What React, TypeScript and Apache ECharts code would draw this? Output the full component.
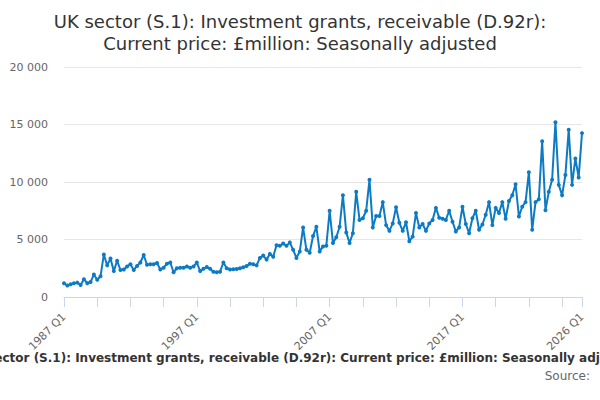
import React, { useEffect, useRef } from "react";
import * as echarts from "echarts";

const START_YEAR = 1987;

// Quarterly values, £million (one row per year: Q1..Q4)
const values1987_1996: number[] = [
  1200, 1000, 1100, 1200,
  1250, 1050, 1550, 1200,
  1300, 1950, 1500, 1800,
  3700, 2750, 3350, 2250,
  3150, 2350, 2400, 2650,
  2850, 2350, 2700, 3000,
  3650, 2800, 2850, 2850,
  2950, 2400, 2550, 2900,
  3000, 2150, 2500, 2550,
  2550, 2650, 2550, 2650,
];
const values1997_2006: number[] = [
  3000, 2250, 2450, 2600,
  2450, 2200, 2150, 2200,
  3000, 2500, 2400, 2420,
  2430, 2500, 2580, 2700,
  2900, 2850, 2750, 3400,
  3600, 3250, 3750, 3500,
  4500, 4450, 4650, 4450,
  4750, 4100, 3400, 3950,
  6050, 4100, 3850, 5300,
  6100, 3950, 4400, 4450,
];
const values2007_2016: number[] = [
  7500, 4700, 5200, 6100,
  8850, 5600, 4700, 5550,
  9150, 6700, 6850, 7500,
  10200, 6050, 7050, 7050,
  8250, 6250, 5750, 6400,
  7800, 6450, 5750, 6500,
  4850, 5250, 7300, 6050,
  6350, 5750, 6400, 6700,
  7750, 6900, 6800, 6700,
  7500, 6550, 5700, 6050,
];
const values2017_2026: number[] = [
  7850, 6350, 5550, 6850,
  7500, 5850, 6300, 7150,
  8250, 6250, 7750, 7300,
  8250, 6800, 8350, 8850,
  9800, 7000, 7850, 8250,
  10850, 5850, 8250, 8500,
  13550, 7550, 9150, 10200,
  15200, 9750, 8850, 10600,
  14550, 9750, 12050, 10400,
  14250,
];

const seriesValues: number[] = [
  ...values1987_1996,
  ...values1997_2006,
  ...values2007_2016,
  ...values2017_2026,
];

const categories: string[] = seriesValues.map(
  (_, i) => `${START_YEAR + Math.floor(i / 4)} Q${(i % 4) + 1}`
);

const yTicks: number[] = [0, 5000, 10000, 15000, 20000];

const titleLines: string[] = [
  "UK sector (S.1): Investment grants, receivable (D.92r):",
  "Current price: £million: Seasonally adjusted",
];
const captionText =
  "UK sector (S.1): Investment grants, receivable (D.92r): Current price: £million: Seasonally adjusted";
const sourceText = "Source:";

const FONT = "DejaVu Sans";

export default function App() {
  const ref = useRef<HTMLDivElement>(null);

  useEffect(() => {
    document.body.style.margin = "0";
    if (!ref.current) return;
    const chart = echarts.init(ref.current, undefined, { renderer: "svg" });
    const last = categories.length - 1;
    chart.setOption({
      animation: false,
      backgroundColor: "#ffffff",
      textStyle: { fontFamily: FONT },
      title: {
        text: titleLines.join("\n"),
        left: "center",
        top: 5,
        textStyle: {
          fontFamily: FONT,
          fontSize: 18,
          fontWeight: "normal",
          color: "#333333",
          lineHeight: 22,
        },
      },
      grid: { left: 64, right: 18, top: 67, bottom: 103, containLabel: false },
      xAxis: {
        type: "category",
        data: categories,
        boundaryGap: false,
        axisLine: { lineStyle: { color: "#ccd6eb" } },
        axisTick: {
          length: 10,
          lineStyle: { color: "#ccd6eb" },
          interval: (idx: number) => idx % 10 === 0 || idx === last,
        },
        axisLabel: {
          rotate: 45,
          color: "#666666",
          fontSize: 11,
          fontFamily: FONT,
          margin: 18,
          interval: (idx: number) => idx % 40 === 0 || idx === last,
        },
        splitLine: { show: false },
      },
      yAxis: {
        type: "value",
        min: yTicks[0],
        max: yTicks[yTicks.length - 1],
        interval: yTicks[1] - yTicks[0],
        axisLine: { show: false },
        axisTick: { show: false },
        axisLabel: {
          color: "#666666",
          fontSize: 11,
          fontFamily: FONT,
          margin: 16,
          formatter: (v: number) =>
            String(v).replace(/\B(?=(\d{3})+(?!\d))/g, " "),
        },
        splitLine: { lineStyle: { color: "#e6e6e6" } },
      },
      series: [
        {
          type: "line",
          data: seriesValues,
          symbol: "circle",
          symbolSize: 4,
          showSymbol: true,
          showAllSymbol: true,
          lineStyle: { color: "#0d7bc4", width: 2 },
          itemStyle: { color: "#0d7bc4" },
        },
      ],
      graphic: [
        {
          type: "text",
          x: 301,
          y: 358,
          style: {
            text: captionText,
            textAlign: "center",
            textVerticalAlign: "middle",
            fontFamily: FONT,
            fontSize: 12,
            fontWeight: "bold",
            fill: "#333333",
          },
        },
        {
          type: "text",
          x: 590,
          y: 376,
          style: {
            text: sourceText,
            textAlign: "right",
            textVerticalAlign: "middle",
            fontFamily: FONT,
            fontSize: 12,
            fill: "#666666",
          },
        },
      ],
    });
    return () => chart.dispose();
  }, []);

  return <div ref={ref} style={{ width: 600, height: 400 }} />;
}
